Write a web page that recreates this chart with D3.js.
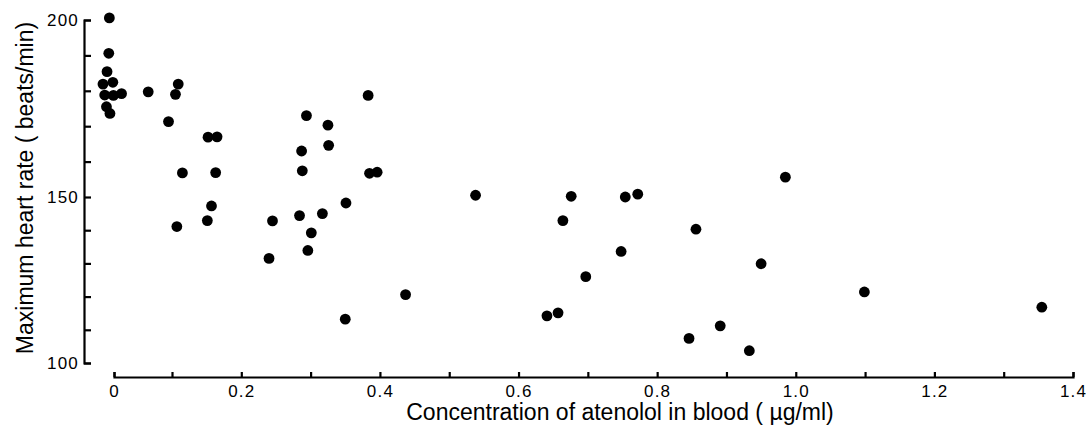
<!DOCTYPE html>
<html>
<head>
<meta charset="utf-8">
<script src="https://cdnjs.cloudflare.com/ajax/libs/d3/7.8.5/d3.min.js"></script>
<style>
    body { margin: 0; background: #fff; }
    svg { display: block; font-family: "Liberation Sans", Arial, Helvetica, sans-serif; }
    .axis path, .axis line { stroke: #000; stroke-width: 2.2; }
    .axis text { fill: #000; font-size: 17px; letter-spacing: 1.2px; }
</style>
</head>
<body>
<div id="chart"></div>
<script>
// atenolol concentration (ug/ml) - the "0" group is spread a little round zero
var concentration = [
    -0.008, -0.009, -0.012, -0.019, -0.002, -0.016, -0.001, 0.013, -0.013, -0.007,
    0.059, 0.109, 0.105, 0.094, 0.152, 0.165, 0.115, 0.163, 0.157, 0.151, 0.107,
    0.245, 0.240, 0.294, 0.325, 0.326, 0.287, 0.288, 0.284, 0.317, 0.351, 0.301,
    0.296, 0.383, 0.385, 0.396, 0.350, 0.437,
    0.538, 0.676, 0.754, 0.772, 0.664, 0.856, 0.748, 0.697, 0.641, 0.657, 0.846,
    0.985, 0.950, 1.099, 0.891, 0.933, 1.355
];

// maximum heart rate (beats/min)
var heartRate = [
    200.6, 190.6, 185.4, 181.9, 182.4, 178.8, 178.7, 179.2, 175.5, 173.6,
    179.7, 181.9, 179.0, 171.3, 166.9, 167.0, 156.8, 156.9, 147.3, 142.9, 141.1,
    142.8, 131.5, 173.0, 170.3, 164.6, 163.0, 157.4, 144.4, 145.0, 148.2, 139.2,
    133.9, 178.7, 156.7, 157.0, 113.2, 120.6,
    150.5, 150.2, 150.0, 150.8, 142.9, 140.3, 133.6, 126.0, 114.2, 115.1, 107.4,
    155.6, 129.9, 121.4, 111.2, 103.7, 116.8
];

var xTicks = d3.range(0, 15).map(function(i) { return i / 10; });
var xTickLabels = ["0", "", "0.2", "", "0.4", "", "0.6", "", "0.8", "", "1.0", "", "1.2", "", "1.4"];
var yTicks = d3.range(100, 201, 10);
var yTickLabels = ["100", "", "", "", "", "150", "", "", "", "", "200"];

var width = 1086;
var height = 441;

var svg = d3.select("#chart")
    .append("svg")
    .attr("width", width)
    .attr("height", height);

// the printed axes are not quite even, so the scales are piecewise
var x = d3.scaleLinear()
    .domain([0, 0.1, 1.4])
    .range([114, 172, 1073]);

var y = d3.scaleLinear()
    .domain([100, 150, 200])
    .range([363, 197, 20]);

// ***** AXES *****
var xAxis = d3.axisBottom(x)
    .tickValues(xTicks)
    .tickSizeInner(-5)
    .tickSizeOuter(-5)
    .tickPadding(8)
    .tickFormat(function(d, i) { return xTickLabels[i]; });

svg.append("g")
    .attr("class", "axis")
    .attr("transform", "translate(0,377)")
    .call(xAxis);

var yAxis = d3.axisLeft(y)
    .tickValues(yTicks)
    .tickSizeInner(-7)
    .tickSizeOuter(-7)
    .tickPadding(5)
    .tickFormat(function(d, i) { return yTickLabels[i]; });

svg.append("g")
    .attr("class", "axis")
    .attr("transform", "translate(84,0)")
    .call(yAxis);

svg.append("text")
    .attr("x", 620)
    .attr("y", 420)
    .attr("text-anchor", "middle")
    .style("font-size", "23px")
    .text("Concentration of atenolol in blood ( µg/ml)");

svg.append("text")
    .attr("transform", "translate(33,188) rotate(-90)")
    .attr("text-anchor", "middle")
    .style("font-size", "23px")
    .text("Maximum heart rate ( beats/min)");

// ***** POINTS *****
svg.selectAll("circle")
    .data(concentration)
    .enter()
    .append("circle")
    .attr("cx", function(d) { return x(d); })
    .attr("cy", function(d, i) { return y(heartRate[i]); })
    .attr("r", 5.4)
    .attr("fill", "#000");
</script>
</body>
</html>
